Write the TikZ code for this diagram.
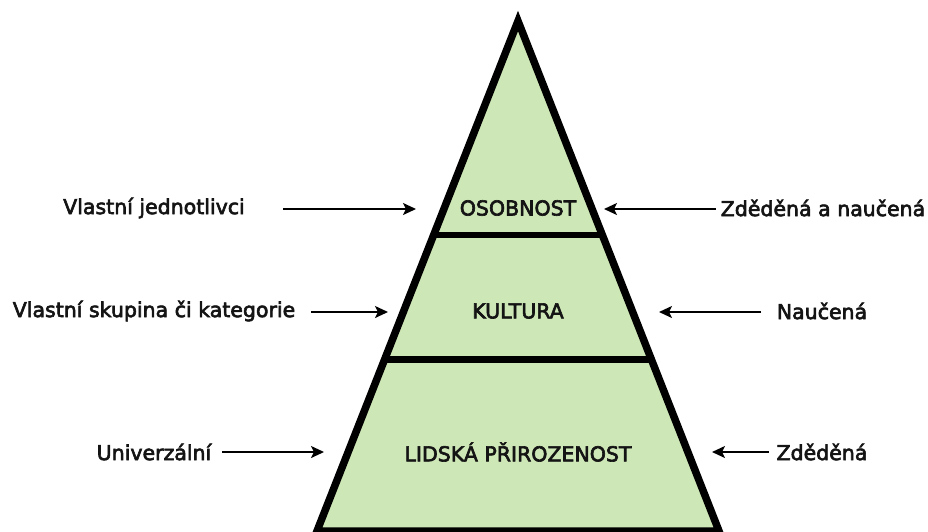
\documentclass[tikz,border=0pt]{standalone}
\usepackage{fontspec}
\setmainfont{DejaVu Sans}[FakeBold=3]
\usetikzlibrary{arrows.meta}
\definecolor{pyrgreen}{RGB}{206,231,182}
\begin{document}
\begin{tikzpicture}[x=1pt,y=-1pt,
  lbl/.style={font=\fontsize{20.5}{25}\selectfont, text=black!92, inner sep=0pt},
  arr/.style={line width=1.9pt, -{Stealth[length=13pt,width=12pt,inset=3pt]}},
  edge/.style={line width=7.5pt, line join=miter},
  divider/.style={line width=6.5pt}]
\useasboundingbox (0,0) rectangle (928,531);
% pyramid geometry
\coordinate (apex) at (518,21);
\coordinate (bl) at (317,531);
\coordinate (br) at (719,531);
\fill[pyrgreen] (apex) -- (bl) -- (br) -- cycle;
\coordinate (d1l) at (433.7,235);
\coordinate (d1r) at (602.3,235);
\coordinate (d2l) at (384.5,359.5);
\coordinate (d2r) at (651.5,359.5);
\draw[divider] (d1l) -- (d1r);
\draw[divider] (d2l) -- (d2r);
\draw[edge] (bl) -- (apex) -- (br) -- cycle;
% level labels
\node[lbl] (osob) at (518,208) {OSOBNOST};
\node[lbl] (kult) at (518,311) {KULTURA};
\node[lbl] (lids) at (518,452) {LIDSKÁ PŘIROZENOST};
% left labels
\node[lbl] (l1) at (154,208) {Vlastní jednotlivci};
\node[lbl] (l2) at (154,311) {Vlastní skupina či kategorie};
\node[lbl] (l3) at (154,452) {Univerzální};
% right labels
\node[lbl] (r1) at (823,208) {Zděděná a naučená};
\node[lbl] (r2) at (822,311) {Naučená};
\node[lbl] (r3) at (822,452) {Zděděná};
% arrow ends
\coordinate (a1s) at (283,209); \coordinate (a1e) at (416,209);
\coordinate (a2s) at (311,312); \coordinate (a2e) at (388,312);
\coordinate (a3s) at (222,452); \coordinate (a3e) at (324,452);
\coordinate (b1s) at (716,209); \coordinate (b1e) at (604,209);
\coordinate (b2s) at (761,312); \coordinate (b2e) at (659,312);
\coordinate (b3s) at (769,452); \coordinate (b3e) at (712,452);
\draw[arr] (a1s) -- (a1e);
\draw[arr] (a2s) -- (a2e);
\draw[arr] (a3s) -- (a3e);
\draw[arr] (b1s) -- (b1e);
\draw[arr] (b2s) -- (b2e);
\draw[arr] (b3s) -- (b3e);
\end{tikzpicture}
\end{document}
